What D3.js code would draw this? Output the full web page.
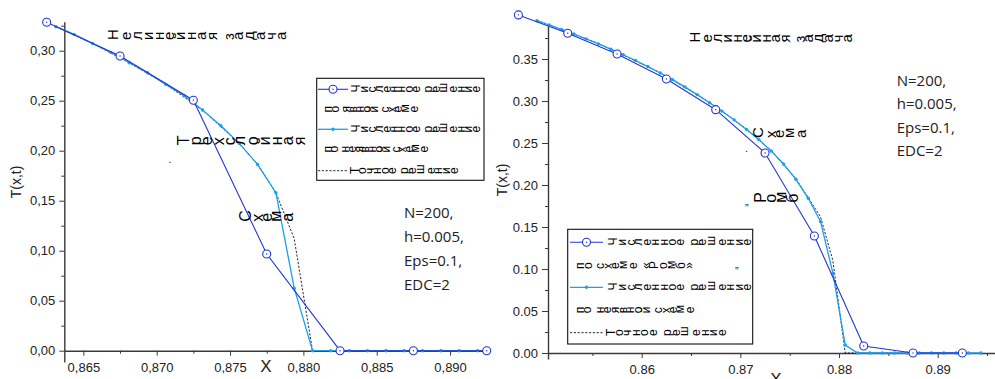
<!DOCTYPE html>
<html><head><meta charset="utf-8">
<script src="https://cdn.jsdelivr.net/npm/d3@7"></script>
<style>body{margin:0;background:#fff}svg{display:block}</style>
</head><body>
<svg id="c" width="995" height="379"></svg>
<script>
// ---------------- DATA ----------------
// Left panel (comma decimals)
const leftCircleX = [0.8625, 0.8675, 0.8725, 0.8775, 0.8825, 0.8875, 0.8925];
const leftCircleY = [0.3284, 0.2947, 0.2505, 0.0967, 0, 0, 0];
const leftFineX = [0.863125, 0.864375, 0.865625, 0.866875, 0.868125, 0.869375, 0.870625, 0.871875,
  0.873125, 0.874375, 0.875625, 0.876875, 0.878125, 0.879375, 0.880625, 0.881875, 0.883125,
  0.884375, 0.885625, 0.886875, 0.888125, 0.889375, 0.890625, 0.891875];
const leftFineY = [0.3240, 0.3163, 0.3073, 0.2983, 0.2880, 0.2780, 0.2663, 0.2550,
  0.2407, 0.2250, 0.2073, 0.1863, 0.1580, 0.0625, 0, 0, 0,
  0, 0, 0, 0, 0, 0, 0];
const leftExactX = [0.863125, 0.865625, 0.868125, 0.870625, 0.873125, 0.875625, 0.876875, 0.878125,
  0.879375, 0.880625, 0.8925];
const leftExactY = [0.3240, 0.3073, 0.2880, 0.2663, 0.2407, 0.2073, 0.1863, 0.1580,
  0.1120, 0, 0];
const leftYTicks = [0, 0.05, 0.10, 0.15, 0.20, 0.25, 0.30];
const leftYMinor = [0.025, 0.075, 0.125, 0.175, 0.225, 0.275, 0.325];
const leftXTicks = [0.865, 0.870, 0.875, 0.880, 0.885, 0.890];
const leftXMinor = [0.8675, 0.8725, 0.8775, 0.8825, 0.8875, 0.8925];

// Right panel (dot decimals)
const rightCircleX = [0.8475, 0.8525, 0.8575, 0.8625, 0.8675, 0.8725, 0.8775, 0.8825, 0.8875, 0.8925];
const rightCircleY = [0.4025, 0.3806, 0.3560, 0.3262, 0.2897, 0.2381, 0.1393, 0.0083, 0, 0];
const rightFineX = [0.849375, 0.850625, 0.851875, 0.853125, 0.854375, 0.855625, 0.856875, 0.858125,
  0.859375, 0.860625, 0.861875, 0.863125, 0.864375, 0.865625, 0.866875, 0.868125, 0.869375,
  0.870625, 0.871875, 0.873125, 0.874375, 0.875625, 0.876875, 0.878125, 0.879375, 0.880625,
  0.881875, 0.883125, 0.884375, 0.885625, 0.886875, 0.888125, 0.889375, 0.890625, 0.891875,
  0.893125, 0.894375];
const rightFineY = [0.3956, 0.3905, 0.3853, 0.3797, 0.3740, 0.3680, 0.3617, 0.3551,
  0.3482, 0.3410, 0.3334, 0.3254, 0.3168, 0.3076, 0.2980, 0.2880, 0.2775,
  0.2662, 0.2540, 0.2405, 0.2250, 0.2068, 0.1842, 0.1565, 0.0950, 0.0095,
  0, 0, 0, 0, 0, 0, 0, 0, 0,
  0, 0];
const rightExactX = [0.849375, 0.855625, 0.861875, 0.866875, 0.870625, 0.873125, 0.875625, 0.876875,
  0.878125, 0.879375, 0.880625, 0.8925];
const rightExactY = [0.3960, 0.3684, 0.3338, 0.2984, 0.2666, 0.2410, 0.2075, 0.1850,
  0.1620, 0.1100, 0, 0];
const rightYTicks = [0, 0.05, 0.10, 0.15, 0.20, 0.25, 0.30, 0.35];
const rightYMinor = [0.025, 0.075, 0.125, 0.175, 0.225, 0.275, 0.325, 0.375];
const rightXTicks = [0.86, 0.87, 0.88, 0.89];
const rightXMinor = [0.855, 0.865, 0.875, 0.885, 0.895];

const paramLines = ["N=200,", "h=0.005,", "Eps=0.1,", "EDC=2"];
const titleText = "Нелинейная задача";
const legendLeft = ["Численное решение", "по явной схеме", "Численное решение", "по неявной схеме", "Точное решение"];
const legendRight = ["Численное решение", "по схеме «Ромб»", "Численное решение", "по неявной схеме", "Точное решение"];

// ---------------- STYLE ----------------
const DARK = "#2236d6", LIGHT = "#1aa0ee", AXIS = "#3a3a3a";
const svg = d3.select("#c");
svg.append("rect").attr("width", 995).attr("height", 379).attr("fill", "#fff");

function garbled(g, str, x0, x1, cy, fs) {
  g.append("text")
    .attr("font-family", "'Liberation Sans', Arial, sans-serif")
    .attr("font-size", fs).attr("fill", "#000")
    .attr("x", x0 + 0.55 * fs).attr("y", cy + 0.27 * fs)
    .attr("rotate", -90)
    .attr("textLength", Math.max(10, x1 - x0))
    .attr("lengthAdjust", "spacing")
    .text(str);
}

function panel(o) {
  const g = svg.append("g");
  const x = d3.scaleLinear().domain(o.xDom).range(o.xRange);
  const y = d3.scaleLinear().domain(o.yDom).range(o.yRange);
  const fmt = v => o.comma ? d3.format(o.yFmt)(v).replace(".", ",") : d3.format(o.yFmt)(v);
  const fmtX = v => o.comma ? d3.format(o.xFmt)(v).replace(".", ",") : d3.format(o.xFmt)(v);

  // y axis
  const ya = g.append("g").attr("transform", `translate(${o.xRange[0]},0)`)
    .call(d3.axisLeft(y).tickValues(o.yTicks).tickFormat(fmt).tickSize(o.ytl).tickSizeOuter(0).tickPadding(4));
  ya.append("g").call(d3.axisLeft(y).tickValues(o.yMinor).tickFormat("").tickSize(3)).select(".domain").remove();
  // x axis at y=0
  const xa = g.append("g").attr("transform", `translate(0,${y(0)})`)
    .call(d3.axisBottom(x).tickValues(o.xTicks).tickFormat(fmtX).tickSize(5).tickSizeOuter(0).tickPadding(7));
  xa.append("g").call(d3.axisBottom(x).tickValues(o.xMinor).tickFormat("").tickSize(3)).select(".domain").remove();
  g.selectAll(".domain").attr("stroke", AXIS).attr("stroke-width", 1.4);
  g.selectAll(".tick line").attr("stroke", AXIS).attr("stroke-width", 1);
  g.selectAll(".tick text").attr("font-family", "'Liberation Sans', Arial, sans-serif").attr("font-size", 13).attr("fill", "#222");

  // exact (dashed)
  const line = d3.line().x(d => x(d[0])).y(d => y(d[1]));
  g.append("path").datum(o.exX.map((v, i) => [v, o.exY[i]]))
    .attr("d", line).attr("fill", "none").attr("stroke", "#111").attr("stroke-width", 0.9).attr("stroke-dasharray", "2.2,1.6");
  // fine light blue
  const fine = o.fX.map((v, i) => [v, o.fY[i]]);
  g.append("path").datum(fine).attr("d", line).attr("fill", "none").attr("stroke", LIGHT).attr("stroke-width", 1.3);
  g.selectAll(".fd").data(fine).enter().append("circle")
    .attr("cx", d => x(d[0])).attr("cy", d => y(d[1])).attr("r", 1.7).attr("fill", LIGHT);
  // coarse dark blue with circles
  const coarse = o.cX.map((v, i) => [v, o.cY[i]]);
  g.append("path").datum(coarse).attr("d", line).attr("fill", "none").attr("stroke", DARK).attr("stroke-width", 1.1);
  g.selectAll(".cd").data(coarse).enter().append("circle")
    .attr("cx", d => x(d[0])).attr("cy", d => y(d[1])).attr("r", 4).attr("fill", "#fff").attr("stroke", DARK).attr("stroke-width", 1.1);
  g.selectAll(".cc").data(coarse).enter().append("circle")
    .attr("cx", d => x(d[0])).attr("cy", d => y(d[1])).attr("r", 0.7).attr("fill", DARK);

  // axis titles
  g.append("text").attr("x", o.xlab[0]).attr("y", o.xlab[1]).attr("text-anchor", "middle")
    .attr("font-family", "'Liberation Sans', Arial, sans-serif").attr("font-size", 17).attr("fill", "#222").text("X");
  g.append("text").attr("transform", `translate(${o.ylab[0]},${o.ylab[1]}) rotate(-90)`).attr("text-anchor", "middle")
    .attr("font-family", "'Liberation Sans', Arial, sans-serif").attr("font-size", 14).attr("fill", "#222").text("T(x,t)");

  // parameters
  paramLines.forEach((s, i) => g.append("text").attr("x", o.par[0]).attr("y", o.par[1] + i * o.par[2])
    .attr("font-family", "'Open Sans', 'Noto Sans', sans-serif").attr("font-size", 15).attr("fill", "#222").text(s));

  // legend
  const L = o.leg;
  g.append("rect").attr("x", L.x).attr("y", L.y).attr("width", L.w).attr("height", L.h)
    .attr("fill", "#fff").attr("stroke", "#111").attr("stroke-width", 1.1);
  const ly = L.rows;
  g.append("line").attr("x1", L.lx0).attr("x2", L.lx1).attr("y1", ly[0]).attr("y2", ly[0]).attr("stroke", DARK).attr("stroke-width", 1.1);
  g.append("circle").attr("cx", (L.lx0 + L.lx1) / 2).attr("cy", ly[0]).attr("r", 4).attr("fill", "#fff").attr("stroke", DARK).attr("stroke-width", 1.1);
  g.append("circle").attr("cx", (L.lx0 + L.lx1) / 2).attr("cy", ly[0]).attr("r", 0.7).attr("fill", DARK);
  g.append("line").attr("x1", L.lx0).attr("x2", L.lx1).attr("y1", ly[2]).attr("y2", ly[2]).attr("stroke", LIGHT).attr("stroke-width", 1.3);
  g.append("circle").attr("cx", (L.lx0 + L.lx1) / 2).attr("cy", ly[2]).attr("r", 1.7).attr("fill", LIGHT);
  g.append("line").attr("x1", L.lx0).attr("x2", L.lx1).attr("y1", ly[4]).attr("y2", ly[4]).attr("stroke", "#111").attr("stroke-width", 0.9).attr("stroke-dasharray", "2.2,1.6");
  o.legText.forEach((s, i) => garbled(g, s, L.tx[i][0], L.tx[i][1], ly[i], L.fs));

  // annotations
  o.notes.forEach(n => garbled(g, n[0], n[1], n[2], n[3], n[4]));
  o.marks.forEach(m => g.append("text").attr("x", m[1]).attr("y", m[2]).attr("font-family", "'Liberation Sans', Arial, sans-serif")
    .attr("font-size", 11).attr("fill", "#222").text(m[0]));
}

panel({
  comma: true, yFmt: ".2f", xFmt: ".3f",
  xDom: [0.8637, 0.8926], xRange: [64.3, 488.2],
  yDom: [-0.0113, 0.329], yRange: [362, 21.7], ytl: 5,
  yTicks: leftYTicks, yMinor: leftYMinor, xTicks: leftXTicks, xMinor: leftXMinor,
  cX: leftCircleX, cY: leftCircleY, fX: leftFineX, fY: leftFineY, exX: leftExactX, exY: leftExactY,
  xlab: [266, 372], ylab: [21, 182], par: [404, 217.5, 24.3],
  leg: { x: 316.7, y: 78.3, w: 167.3, h: 102, lx0: 318, lx1: 348, rows: [89.3, 109.3, 129.3, 149.3, 170.7],
    tx: [[353, 480], [325, 418], [353, 480], [325, 428], [352, 458]], fs: 12 },
  legText: legendLeft,
  notes: [[titleText, 110, 286, 36, 15], ["Трехслойная", 180, 305, 141, 16], ["Схема", 242, 293, 217.5, 16]],
  marks: [[".", 168.5, 163]]
});
panel({
  comma: false, yFmt: ".2f", xFmt: ".2f",
  xDom: [0.8505, 0.8960], xRange: [548, 996.9],
  yDom: [-0.00714, 0.3893], yRange: [359, 26], ytl: 6,
  yTicks: rightYTicks, yMinor: rightYMinor, xTicks: rightXTicks, xMinor: rightXMinor,
  cX: rightCircleX, cY: rightCircleY, fX: rightFineX, fY: rightFineY, exX: rightExactX, exY: rightExactY,
  xlab: [776, 385], ylab: [507, 180], par: [896.7, 86, 23.3],
  leg: { x: 567.7, y: 229.3, w: 185, h: 114.7, lx0: 570, lx1: 603, rows: [242.3, 265.7, 287.3, 310, 332.7],
    tx: [[610, 751], [577, 693], [610, 751], [577, 694], [608, 726]], fs: 12 },
  legText: legendRight,
  notes: [[titleText, 692, 852, 38.5, 15], ["Схема", 755, 806, 134, 15], ["Ромб", 757, 798, 198.5, 16]],
  marks: [[".", 745, 152], ["\u201D", 745, 212], ["\u201D", 735, 275]]
});
</script>
</body></html>
